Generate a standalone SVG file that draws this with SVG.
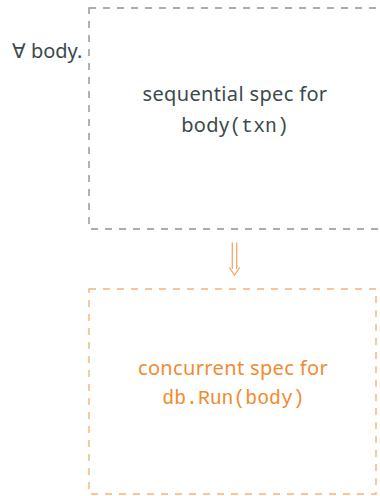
<svg xmlns="http://www.w3.org/2000/svg" width="380" height="496" viewBox="0 0 380 496">
<style>
.sans{font-family:"Noto Sans","DejaVu Sans",sans-serif;font-size:20px;letter-spacing:0.35px}
.mono{font-family:"Liberation Mono","DejaVu Sans Mono",monospace;font-size:19.8px}
.gray{fill:#3b4a4c}
.orange{fill:#f08c30}
.boxg{fill:none;stroke:#8c9494;stroke-width:1.4;stroke-dasharray:7 7}
.boxo{fill:none;stroke:#f5b27a;stroke-width:1.4;stroke-dasharray:7 7}
.arrow{fill:none;stroke:#f2a868;stroke-width:1.3}
</style>
<rect width="380" height="496" fill="#ffffff"/>
<g id="forall">
<text class="sans gray" x="12" y="58" style="letter-spacing:0">∀ body.</text>
</g>
<g id="sequential">
<rect class="boxg" x="89" y="8" width="293" height="221"/>
<text class="sans gray" x="235" y="101" text-anchor="middle">sequential spec for</text>
<text class="gray" x="235" y="132" text-anchor="middle"><tspan class="sans">body</tspan><tspan class="mono">(txn)</tspan></text>
</g>
<g id="concurrent">
<rect class="boxo" x="89" y="289" width="287" height="205"/>
<text class="sans orange" x="233" y="375" text-anchor="middle">concurrent spec for</text>
<text class="mono orange" x="233.5" y="404" text-anchor="middle">db.Run(body)</text>
</g>
<g id="connectors">
<path class="arrow" d="M232.3 242.5 V269 M236.7 242.5 V269 M229.3 267.5 L234.5 275 L239.7 267.5"/>
</g>
</svg>
